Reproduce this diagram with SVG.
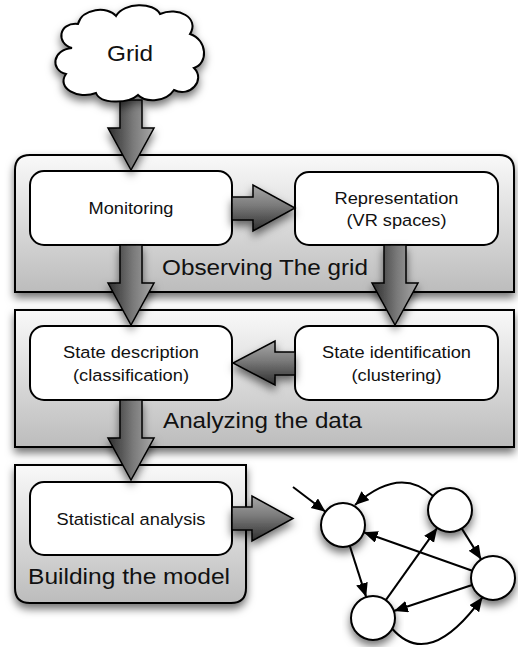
<svg xmlns="http://www.w3.org/2000/svg" width="518" height="647" viewBox="0 0 518 647">
  <defs>
    <style>
      .lbl { font-family: "Liberation Sans", Arial, Helvetica, sans-serif; fill: #111; text-anchor: middle; }
      .node-text { font-size: 16.3px; }
      .stage-text { font-size: 21.6px; }
      .stage { stroke: #000; stroke-width: 2; fill: url(#stageFill); filter: url(#shadow); }
      .step { stroke: #000; stroke-width: 2; fill: #fff; }
      .fat-v { stroke: #000; stroke-width: 1.5; fill: url(#fatV); filter: url(#shadow); }
      .fat-h { stroke: #000; stroke-width: 1.5; fill: url(#fatH); filter: url(#shadow); }
      .state { stroke: #000; stroke-width: 2; fill: #fff; filter: url(#shadow); }
      .edge { stroke: #000; stroke-width: 2; fill: none; marker-end: url(#tip); }
    </style>
    <linearGradient id="stageFill" x1="0" y1="0" x2="0" y2="1">
      <stop offset="0" stop-color="#f9f9f9"/>
      <stop offset="1" stop-color="#bcbcbc"/>
    </linearGradient>
    <linearGradient id="fatV" x1="0" y1="0" x2="1" y2="0">
      <stop offset="0" stop-color="#2e2e2e"/>
      <stop offset="0.55" stop-color="#7a7a7a"/>
      <stop offset="1" stop-color="#a8a8a8"/>
    </linearGradient>
    <linearGradient id="fatH" x1="0" y1="0" x2="0" y2="1">
      <stop offset="0" stop-color="#a8a8a8"/>
      <stop offset="0.45" stop-color="#7a7a7a"/>
      <stop offset="1" stop-color="#2e2e2e"/>
    </linearGradient>
    <filter id="shadow" x="-20%" y="-20%" width="140%" height="160%">
      <feDropShadow dx="0" dy="5" stdDeviation="4" flood-color="#000" flood-opacity="0.55"/>
    </filter>
    <marker id="tip" markerUnits="userSpaceOnUse" markerWidth="16" markerHeight="14" refX="14" refY="6" orient="auto">
      <path d="M0,0 L14,6 L0,12 Z" fill="#000"/>
    </marker>
  </defs>

  <!-- stage containers -->
  <g id="stage-observing">
    <path class="stage" d="M15,292 V170 Q15,155 30,155 H499 Q514,155 514,170 V292 Z"/>
    <text class="lbl stage-text" x="265" y="275" textLength="206" lengthAdjust="spacingAndGlyphs">Observing The grid</text>
  </g>
  <g id="stage-analyzing">
    <rect class="stage" x="15" y="310" width="499" height="137"/>
    <text class="lbl stage-text" x="262.5" y="428" textLength="199" lengthAdjust="spacingAndGlyphs">Analyzing the data</text>
  </g>
  <g id="stage-building">
    <path class="stage" d="M15,465 H246 V588 Q246,603 231,603 H30 Q15,603 15,588 Z"/>
    <text class="lbl stage-text" x="129" y="584" textLength="202" lengthAdjust="spacingAndGlyphs">Building the model</text>
  </g>

  <!-- process steps -->
  <g id="monitoring">
    <rect class="step" x="30" y="171" width="202" height="74" rx="14"/>
    <text class="lbl node-text" x="131" y="214" textLength="85" lengthAdjust="spacingAndGlyphs">Monitoring</text>
  </g>
  <g id="representation">
    <rect class="step" x="295" y="172" width="203" height="73" rx="14"/>
    <text class="lbl node-text" x="396.5" y="203.5" textLength="124" lengthAdjust="spacingAndGlyphs">Representation</text>
    <text class="lbl node-text" x="396.5" y="226" textLength="100" lengthAdjust="spacingAndGlyphs">(VR spaces)</text>
  </g>
  <g id="state-description">
    <rect class="step" x="30" y="326" width="202" height="74" rx="14"/>
    <text class="lbl node-text" x="131" y="358" textLength="136" lengthAdjust="spacingAndGlyphs">State description</text>
    <text class="lbl node-text" x="131" y="380.5" textLength="116" lengthAdjust="spacingAndGlyphs">(classification)</text>
  </g>
  <g id="state-identification">
    <rect class="step" x="295" y="326" width="203" height="74" rx="14"/>
    <text class="lbl node-text" x="396.5" y="358" textLength="149" lengthAdjust="spacingAndGlyphs">State identification</text>
    <text class="lbl node-text" x="396.5" y="380.5" textLength="90" lengthAdjust="spacingAndGlyphs">(clustering)</text>
  </g>
  <g id="statistical-analysis">
    <rect class="step" x="30" y="482" width="202" height="73" rx="14"/>
    <text class="lbl node-text" x="131" y="524.5" textLength="149" lengthAdjust="spacingAndGlyphs">Statistical analysis</text>
  </g>

  <!-- connectors: block arrows between stages and edges of the state graph -->
  <g id="connectors">
    <polygon class="fat-v" points="120,100 142,100 142,128 154,128 131,170 108,128 120,128"/>
    <polygon class="fat-h" points="232,197 253,197 253,185 295,208 253,231 253,220 232,220"/>
    <polygon class="fat-v" points="120,245 142,245 142,283 154,283 131,325 108,283 120,283"/>
    <polygon class="fat-v" points="384,245 406,245 406,283 418,283 395,325 372,283 384,283"/>
    <polygon class="fat-h" points="295,352 275,352 275,341 233,363 275,385 275,375 295,375"/>
    <polygon class="fat-v" points="120,400 142,400 142,438 154,438 131,480 108,438 120,438"/>
    <polygon class="fat-h" points="232,507 252,507 252,496 293,518.5 252,541 252,530 232,530"/>

    <path class="edge" d="M293,487 L325.5,511.7"/>
    <path class="edge" d="M433,496 Q400,465 355,505"/>
    <path class="edge" d="M461.8,528.6 L481.2,559.4"/>
    <path class="edge" d="M472.3,570.7 L363.7,532.3"/>
    <path class="edge" d="M349.8,545.9 L366.2,597.1"/>
    <path class="edge" d="M385.8,600.1 L437.2,527.9"/>
    <path class="edge" d="M472.1,585 L393.9,611"/>
    <path class="edge" d="M392,628.5 Q429,671 482.5,597.3"/>
  </g>

  <!-- data source -->
  <g id="grid-cloud">
    <path class="state" d="M72,48 C56,44 58,22 78,24 C82,8 108,6 116,16 C124,2 154,2 160,14 C178,6 200,18 190,34 C208,40 208,64 194,68 C206,80 190,98 174,90 C166,102 146,103 138,95 C128,104 100,104 96,93 C78,100 56,88 66,74 C50,70 52,50 72,48 Z"/>
    <text class="lbl" x="130" y="61" font-size="22" textLength="46" lengthAdjust="spacingAndGlyphs">Grid</text>
  </g>

  <!-- state graph -->
  <g id="state-a"><circle class="state" cx="343" cy="525" r="22"/></g>
  <g id="state-b"><circle class="state" cx="450" cy="510" r="22"/></g>
  <g id="state-c"><circle class="state" cx="493" cy="578" r="22"/></g>
  <g id="state-d"><circle class="state" cx="373" cy="618" r="22"/></g>
</svg>
